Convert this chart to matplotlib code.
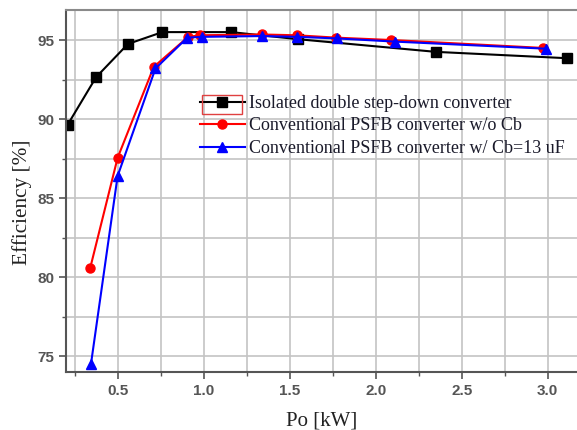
import matplotlib.pyplot as plt
from matplotlib.ticker import MultipleLocator
from matplotlib.patches import Rectangle

# Output power [kW] and efficiency [%] for each converter
po_isolated = [0.21, 0.375, 0.56, 0.76, 1.16, 1.55, 2.35, 3.11]
eff_isolated = [89.65, 92.65, 94.75, 95.5, 95.5, 95.05, 94.25, 93.85]

po_psfb = [0.34, 0.50, 0.71, 0.91, 0.98, 1.34, 1.54, 1.77, 2.09, 2.97]
eff_psfb = [80.55, 87.55, 93.3, 95.2, 95.3, 95.35, 95.3, 95.15, 95.0, 94.5]

po_psfb_cb = [0.345, 0.50, 0.72, 0.905, 0.99, 1.34, 1.54, 1.775, 2.11, 2.99]
eff_psfb_cb = [74.5, 86.4, 93.2, 95.15, 95.2, 95.25, 95.2, 95.1, 94.9, 94.45]

labels = ["Isolated double step-down converter",
          "Conventional PSFB converter w/o Cb",
          "Conventional PSFB converter w/ Cb=13 uF"]

fig = plt.figure(figsize=(5.77, 4.30), dpi=100)
ax = fig.add_axes([0.1144, 0.1349, 0.8856, 0.8419])

l1, = ax.plot(po_isolated, eff_isolated, color='black', marker='s', markersize=7, lw=1.5)
l2, = ax.plot(po_psfb, eff_psfb, color='red', marker='o', markersize=6.5, lw=1.5)
l3, = ax.plot(po_psfb_cb, eff_psfb_cb, color='blue', marker='^', markersize=7.5, lw=1.5)

ax.set_xlim(0.2, 3.17)
ax.set_ylim(74, 96.9)
ax.xaxis.set_major_locator(MultipleLocator(0.5))
ax.xaxis.set_minor_locator(MultipleLocator(0.25))
ax.yaxis.set_major_locator(MultipleLocator(5))
ax.yaxis.set_minor_locator(MultipleLocator(2.5))

# grid on major and minor ticks
ax.grid(which='both', color='#c4c4c4', lw=1.2)
ax.set_axisbelow(True)

for s in ['left', 'bottom', 'top']:
    ax.spines[s].set_color('#555555')
    ax.spines[s].set_linewidth(1.5)
ax.spines['top'].set_color('#8a8a8a')
ax.spines['right'].set_visible(False)

ax.tick_params(which='major', direction='out', length=5, width=1.2, color='#555555',
               labelsize=11, labelcolor='#555555')
ax.tick_params(which='minor', direction='out', length=3, width=1.0, color='#555555')
for lab in ax.get_xticklabels() + ax.get_yticklabels():
    lab.set_fontfamily('Liberation Sans')
    lab.set_fontweight('bold')

ax.set_xlabel("Po [kW]", fontfamily='Liberation Serif', fontsize=15, color='#222222', labelpad=10)
ax.set_ylabel("Efficiency [%]", fontfamily='Liberation Serif', fontsize=15.3, color='#222222')
ax.yaxis.set_label_coords(-0.066, 0.47)

leg = ax.legend([l1, l2, l3], labels, loc='upper left', bbox_to_anchor=(0.23, 0.81),
                frameon=False, handlelength=2.5, handletextpad=0.2, labelspacing=0.3,
                prop={'family': 'Liberation Serif', 'size': 13})
for t in leg.get_texts():
    t.set_color('#1a1a2a')

# red selection box around the first legend handle
fig.canvas.draw()
hb = leg.legend_handles[0].get_window_extent(fig.canvas.get_renderer())
cx, cy = (hb.x0 + hb.x1) / 2, (hb.y0 + hb.y1) / 2
fig.patches.append(Rectangle((cx - 20, cy - 12), 40, 19,
                             transform=None, fill=False, edgecolor='#e04040', lw=1.0))

fig.savefig("out.png", dpi=100)
